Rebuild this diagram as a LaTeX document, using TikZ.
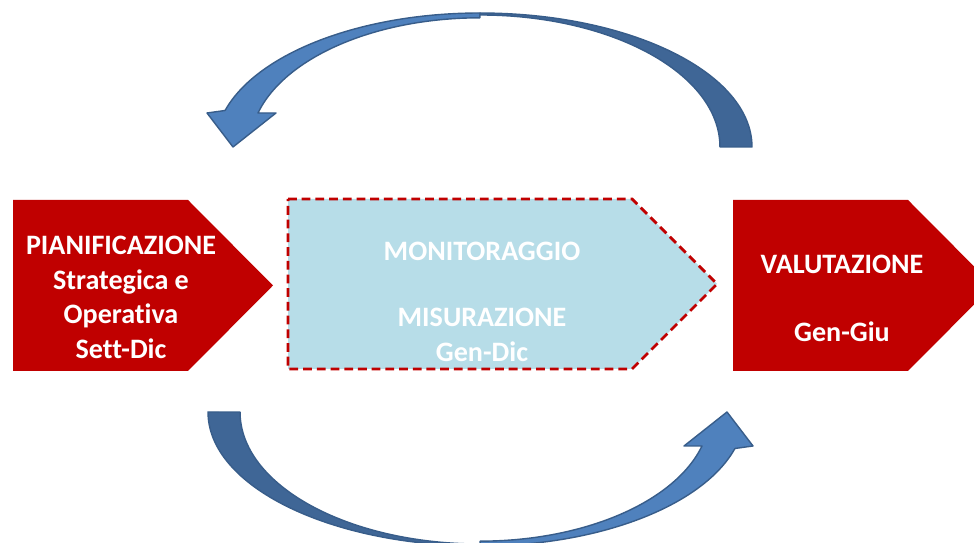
\documentclass[tikz,border=0pt]{standalone}
\usepackage{fontspec}
\setmainfont{Carlito}[Ligatures=CommonOff]
\usetikzlibrary{positioning}
\definecolor{chevred}{HTML}{C00000}
\definecolor{paleblue}{HTML}{B7DDE8}
\definecolor{bandlight}{HTML}{4F81BD}
\definecolor{banddark}{HTML}{3F6696}
\definecolor{bandedge}{HTML}{385D8A}

\begin{document}
\begin{tikzpicture}[x=0.02cm, y=0.02cm,
    chevron/.style={fill=chevred, draw=none},
    midchevron/.style={fill=paleblue, draw=chevred, line width=1.6pt, dash pattern=on 5pt off 2.8pt, line join=miter},
    phase/.style={text=white, font=\fontsize{16}{19.8}\selectfont\bfseries, align=center},
    frontband/.style={fill=bandlight, draw=bandedge, line width=0.8pt, line join=round},
    backband/.style={fill=banddark, draw=bandedge, line width=0.8pt, line join=round}
]
\useasboundingbox (0,0) rectangle (974,543);
\clip (0,0) rectangle (974,543);
% the three phases
\fill[chevron] (13,343) -- (188,343) -- (273,257.5) -- (188,172) -- (13,172) -- cycle;
\draw[midchevron] (288,344) -- (632,344) -- (717,259) -- (632,174) -- (288,174) -- cycle;
\fill[chevron] (733,343) -- (908,343) -- (993,257.5) -- (908,172) -- (733,172) -- cycle;
\node[phase] (plan) at (121,245.5) {PIANIFICAZIONE\\Strategica e\\Operativa\\Sett-Dic};
\node[phase] (monit) at (482,241) {MONITORAGGIO\\[18pt]MISURAZIONE\\Gen-Dic};
\node[phase] (valut) at (842,244.5) {VALUTAZIONE\\[19pt]Gen-Giu};
% curved arrows, the lower one is the upper one turned round
\foreach \ang in {0,180} {
  \begin{scope}[rotate around={\ang:(480,263.5)}]
    \draw[frontband] (480,530) arc[start angle=90, end angle=164.2, x radius=5.30cm, y radius=2.68cm]
      -- (207,430) -- (233,396) -- (276,430) -- (258,430)
      arc[start angle=164.8, end angle=90, x radius=4.60cm, y radius=2.58cm] -- cycle;
    \draw[backband] (752,396) arc[start angle=0, end angle=90, x radius=5.44cm, y radius=2.68cm]
      -- (480,528) arc[start angle=90, end angle=0, x radius=4.80cm, y radius=2.64cm] -- cycle;
  \end{scope}
}
\end{tikzpicture}
\end{document}
